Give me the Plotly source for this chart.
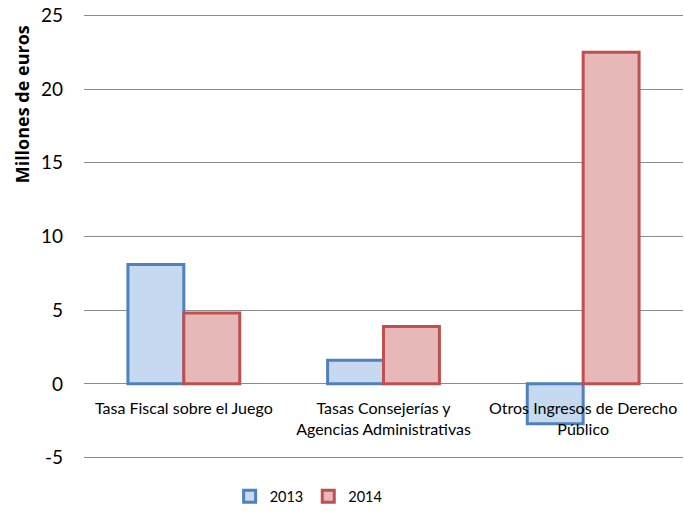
import plotly.graph_objects as go

categories = ["Tasa Fiscal sobre el Juego",
              "Tasas Consejerías y<br>Agencias Administrativas",
              "Otros Ingresos de Derecho<br>Público"]
values_2013 = [8.1, 1.6, -2.7]
values_2014 = [4.8, 3.9, 22.5]
y_ticks = [-5, 0, 5, 10, 15, 20, 25]
y_tick_text = ["-5", "0", "5", "10", "15", "20", "25"]

fig = go.Figure()
fig.add_trace(go.Bar(
    x=categories, y=values_2013, name="2013",
    marker=dict(color="#C6D9F1", line=dict(color="#4F81BD", width=3)),
))
fig.add_trace(go.Bar(
    x=categories, y=values_2014, name="2014",
    marker=dict(color="#E6B9B8", line=dict(color="#C0504D", width=3)),
))

fig.update_layout(
    width=684, height=516,
    margin=dict(l=84, r=1, t=13.5, b=56.5),
    plot_bgcolor="white", paper_bgcolor="white",
    font=dict(family="Lato", color="#000000"),
    barmode="group", bargap=0.44, bargroupgap=0,
    showlegend=True,
    legend=dict(orientation="h", x=0.375, xanchor="center", y=-0.084, yanchor="middle",
                font=dict(size=14.5), itemwidth=30, tracegroupgap=0),
)
fig.update_xaxes(
    anchor="free", position=5.1 / 30.2, showgrid=False, showline=False, ticks="",
    tickfont=dict(size=16), layer="above traces", ticklabelstandoff=13,
    automargin=False, ticklabeloverflow="allow",
)
fig.update_yaxes(
    range=[-5.1, 25.1], tickvals=y_ticks, ticktext=y_tick_text,
    showgrid=True, gridcolor="#8C8C8C", gridwidth=1,
    zeroline=True, zerolinecolor="#8C8C8C", zerolinewidth=1, showline=False,
    tickfont=dict(size=19), ticklabelstandoff=20, automargin=False,
    ticklabeloverflow="allow",
)
fig.add_annotation(
    text="<b>Millones de euros</b>", textangle=-90, showarrow=False,
    xref="paper", yref="paper", x=-0.1035, xanchor="center",
    y=0.797, yanchor="middle", font=dict(family="Open Sans", size=18),
)

# drop the default 8px body margin so the figure fills the window exactly
fig.write_html("out.html", config={"displayModeBar": False},
               post_script="document.body.style.margin='0';")
